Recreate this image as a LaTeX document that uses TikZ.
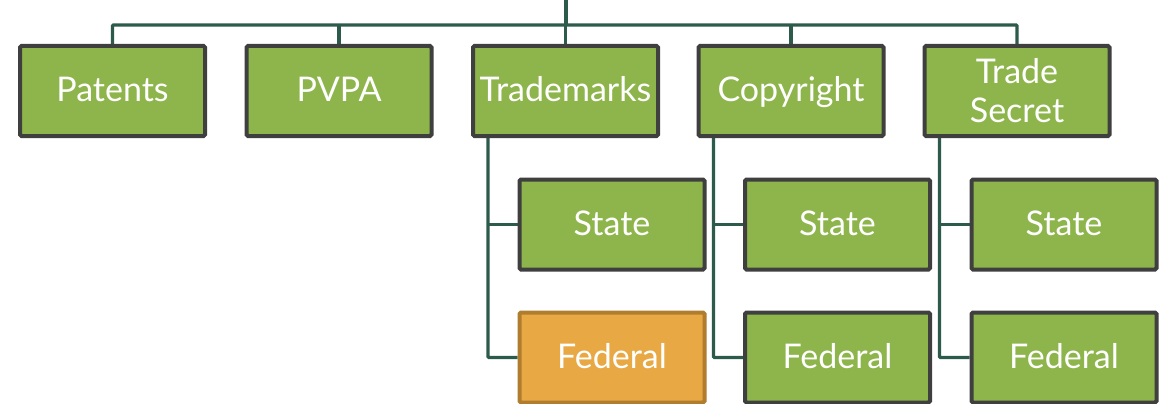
\documentclass[tikz,border=0pt]{standalone}
\usepackage{fontspec}
\setmainfont{Lato}
\usetikzlibrary{calc,backgrounds}
\definecolor{boxgreen}{HTML}{8DB54B}
\definecolor{boxedge}{HTML}{3F3F3F}
\definecolor{linkgreen}{HTML}{2C5B4C}
\definecolor{boxorange}{HTML}{E8A844}
\definecolor{orangeedge}{HTML}{B07D2E}
\tikzset{
  item/.style={draw=boxedge, fill=boxgreen, line width=4pt, rounded corners=1.5pt,
    minimum width=185pt, minimum height=90pt, inner sep=0pt, text=white,
    font=\fontsize{34}{39}\selectfont, align=center},
  oneline/.style={item, text height=30pt, text depth=8pt},
  focus/.style={oneline, draw=orangeedge, fill=boxorange},
  link/.style={draw=linkgreen, line width=3.3pt}
}
\begin{document}
\begin{tikzpicture}[x=1pt, y=-1pt]
  \useasboundingbox (0,0) rectangle (1170,404);
  % top row
  \node[oneline] (pat) at (112.5,91) {Patents};
  \node[oneline] (pvpa) at (339,91) {PVPA};
  \node[oneline] (tm) at (565.5,91) {Trademarks};
  \node[oneline] (cr) at (791,91) {Copyright};
  \node[item] (ts) at (1017,91) {Trade\\Secret};
  % second and third rows
  \node[oneline] (tmS) at (612,224.5) {State};
  \node[focus] (tmF) at (612,357.5) {Federal};
  \node[oneline] (crS) at (837.5,224.5) {State};
  \node[oneline] (crF) at (837.5,357.5) {Federal};
  \node[oneline] (tsS) at (1064,224.5) {State};
  \node[oneline] (tsF) at (1064,357.5) {Federal};
  % hub of the tree
  \coordinate (root) at (566,0);
  \coordinate (hub) at (566,25);
  % connectors, kept beneath the boxes
  \begin{scope}[on background layer]
    \draw[link] (root) -- (hub);
    \draw[link, rounded corners=1pt] (pat.north) -- (pat.north |- hub) -- (ts.north |- hub) -- (ts.north);
    \foreach \n in {pvpa,tm,cr} \draw[link] (\n.north) -- (\n.north |- hub);
    \foreach \p in {tm,cr,ts} {
      \coordinate (\p drop) at ($(\p.south west)+(17,0)$);
      \draw[link, rounded corners=1pt] (\p drop) |- (\p F.west);
      \draw[link] (\p S.west) -- (\p S.west -| \p drop);
    }
  \end{scope}
\end{tikzpicture}
\end{document}
